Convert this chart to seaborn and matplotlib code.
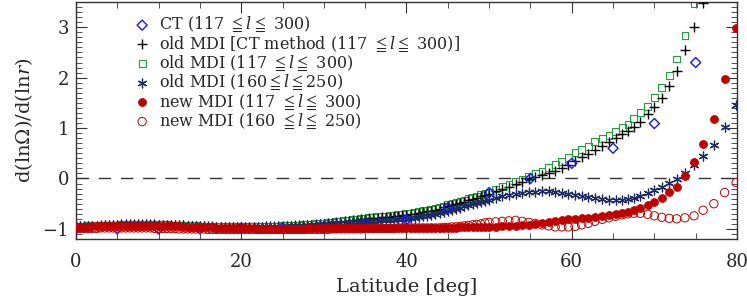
import matplotlib
matplotlib.use("Agg")
import matplotlib.pyplot as plt
import seaborn as sns
from matplotlib.ticker import MultipleLocator

sns.set_theme(style="ticks")
plt.rcParams["font.family"] = ["DejaVu Serif", "DejaVu Sans"]
plt.rcParams["mathtext.fontset"] = "dejavuserif"

# latitude grid of the inversions (deg)
LAT = [
    0.0, 0.5, 1.0, 1.5, 2.0, 2.5, 3.0, 3.5, 4.0, 4.5,
    5.0, 5.5, 6.0, 6.5, 7.0, 7.5, 8.0, 8.5, 9.0, 9.5,
    10.0, 10.5, 11.0, 11.5, 12.0, 12.5, 13.0, 13.5, 14.0, 14.5,
    15.0, 15.5, 16.0, 16.5, 17.0, 17.5, 18.0, 18.5, 19.0, 19.5,
    20.0, 20.5, 21.0, 21.5, 22.0, 22.5, 23.0, 23.5, 24.0, 24.5,
    25.0, 25.5, 26.0, 26.5, 27.0, 27.5, 28.0, 28.5, 29.0, 29.5,
    30.0, 30.5, 31.0, 31.5, 32.0, 32.5, 33.0, 33.5, 34.0, 34.5,
    35.0, 35.5, 36.0, 36.5, 37.0, 37.5, 38.0, 38.5, 39.0, 39.5,
    40.0, 40.5, 41.0, 41.5, 42.0, 42.5, 43.0, 43.5, 44.0, 44.5,
    45.0, 45.5, 46.0, 46.5, 47.0, 47.5, 48.0, 48.5, 49.0, 49.5,
    50.0, 50.8, 51.6, 52.4, 53.2, 54.0, 54.8, 55.6, 56.4, 57.2,
    58.0, 58.8, 59.6, 60.4, 61.2, 62.0, 62.8, 63.7, 64.5, 65.3,
    66.1, 66.8, 67.5, 68.3, 69.2, 70.0, 70.9, 71.8, 72.7, 73.7,
    74.8, 75.9, 77.2, 78.5, 79.9,
]

# old MDI, 117 <= l <= 300
OLD_MDI_117_300 = [
    -0.95, -0.95, -0.95, -0.94, -0.94, -0.94, -0.94, -0.93, -0.93, -0.93,
    -0.93, -0.92, -0.92, -0.92, -0.92, -0.92, -0.92, -0.92, -0.92, -0.92,
    -0.92, -0.92, -0.92, -0.93, -0.93, -0.93, -0.93, -0.94, -0.94, -0.94,
    -0.95, -0.95, -0.95, -0.95, -0.96, -0.96, -0.96, -0.96, -0.96, -0.96,
    -0.96, -0.96, -0.96, -0.96, -0.96, -0.96, -0.95, -0.95, -0.95, -0.95,
    -0.94, -0.94, -0.94, -0.93, -0.93, -0.92, -0.92, -0.91, -0.90, -0.89,
    -0.89, -0.88, -0.87, -0.86, -0.85, -0.84, -0.83, -0.82, -0.81, -0.80,
    -0.79, -0.78, -0.77, -0.76, -0.76, -0.75, -0.74, -0.73, -0.72, -0.71,
    -0.70, -0.69, -0.67, -0.66, -0.64, -0.63, -0.61, -0.59, -0.57, -0.55,
    -0.52, -0.50, -0.47, -0.45, -0.43, -0.40, -0.38, -0.35, -0.32, -0.30,
    -0.27, -0.21, -0.16, -0.11, -0.06, -0.01, 0.04, 0.10, 0.15, 0.21,
    0.27, 0.34, 0.41, 0.51, 0.58, 0.64, 0.74, 0.79, 0.85, 0.93,
    1.01, 1.07, 1.19, 1.31, 1.43, 1.61, 1.81, 2.05, 2.37, 2.83,
    3.46, 4.30, 5.50, 7.00, 9.00,
]

# old MDI, CT method (117 <= l <= 300)
OLD_MDI_CT = [
    -0.95, -0.95, -0.95, -0.94, -0.94, -0.94, -0.94, -0.93, -0.93, -0.93,
    -0.93, -0.92, -0.92, -0.92, -0.92, -0.92, -0.92, -0.92, -0.92, -0.92,
    -0.92, -0.92, -0.92, -0.93, -0.93, -0.93, -0.93, -0.94, -0.94, -0.94,
    -0.95, -0.95, -0.95, -0.95, -0.96, -0.96, -0.96, -0.96, -0.96, -0.96,
    -0.96, -0.96, -0.96, -0.96, -0.96, -0.96, -0.95, -0.95, -0.95, -0.95,
    -0.94, -0.94, -0.94, -0.93, -0.93, -0.93, -0.92, -0.92, -0.91, -0.90,
    -0.90, -0.89, -0.88, -0.87, -0.86, -0.85, -0.84, -0.83, -0.82, -0.81,
    -0.80, -0.79, -0.79, -0.78, -0.77, -0.77, -0.76, -0.75, -0.74, -0.73,
    -0.72, -0.71, -0.70, -0.68, -0.67, -0.65, -0.64, -0.62, -0.60, -0.57,
    -0.55, -0.53, -0.50, -0.48, -0.46, -0.43, -0.41, -0.38, -0.35, -0.33,
    -0.30, -0.25, -0.21, -0.16, -0.11, -0.06, -0.02, 0.02, 0.06, 0.10,
    0.15, 0.20, 0.26, 0.34, 0.42, 0.49, 0.56, 0.65, 0.73, 0.80,
    0.88, 0.94, 1.03, 1.13, 1.27, 1.41, 1.60, 1.84, 2.14, 2.55,
    3.00, 3.48, 4.20, 5.20, 6.50,
]

# old MDI, 160 <= l <= 250
OLD_MDI_160_250 = [
    -0.95, -0.95, -0.95, -0.94, -0.94, -0.94, -0.93, -0.93, -0.92, -0.92,
    -0.92, -0.91, -0.91, -0.91, -0.91, -0.91, -0.91, -0.91, -0.91, -0.91,
    -0.92, -0.92, -0.92, -0.93, -0.93, -0.93, -0.93, -0.94, -0.94, -0.94,
    -0.95, -0.95, -0.96, -0.96, -0.96, -0.96, -0.97, -0.97, -0.97, -0.97,
    -0.97, -0.97, -0.97, -0.97, -0.97, -0.97, -0.97, -0.97, -0.96, -0.96,
    -0.96, -0.95, -0.95, -0.95, -0.94, -0.94, -0.93, -0.92, -0.92, -0.91,
    -0.90, -0.90, -0.89, -0.89, -0.88, -0.88, -0.87, -0.87, -0.86, -0.86,
    -0.85, -0.85, -0.84, -0.84, -0.83, -0.83, -0.82, -0.82, -0.81, -0.81,
    -0.80, -0.79, -0.78, -0.77, -0.75, -0.74, -0.72, -0.71, -0.68, -0.66,
    -0.64, -0.62, -0.60, -0.58, -0.55, -0.53, -0.51, -0.49, -0.46, -0.44,
    -0.42, -0.38, -0.35, -0.33, -0.30, -0.28, -0.27, -0.26, -0.25, -0.25,
    -0.27, -0.29, -0.31, -0.33, -0.35, -0.37, -0.39, -0.40, -0.42, -0.42,
    -0.42, -0.40, -0.38, -0.34, -0.29, -0.23, -0.16, -0.09, -0.01, 0.11,
    0.26, 0.44, 0.66, 1.02, 1.45,
]

# new MDI, 117 <= l <= 300
NEW_MDI_117_300 = [
    -0.96, -0.96, -0.96, -0.96, -0.95, -0.95, -0.95, -0.95, -0.95, -0.94,
    -0.94, -0.94, -0.94, -0.94, -0.94, -0.94, -0.94, -0.94, -0.94, -0.94,
    -0.94, -0.94, -0.95, -0.95, -0.95, -0.95, -0.96, -0.96, -0.96, -0.96,
    -0.97, -0.97, -0.97, -0.97, -0.98, -0.98, -0.98, -0.98, -0.99, -0.99,
    -0.99, -0.99, -0.99, -0.99, -1.00, -1.00, -1.00, -1.00, -1.00, -1.00,
    -1.00, -1.00, -1.00, -1.00, -1.00, -1.00, -0.99, -0.99, -0.99, -0.99,
    -0.99, -0.99, -0.99, -0.98, -0.98, -0.98, -0.98, -0.98, -0.98, -0.98,
    -0.98, -0.98, -0.98, -0.98, -0.98, -0.98, -0.98, -0.98, -0.98, -0.98,
    -0.98, -0.98, -0.98, -0.98, -0.98, -0.98, -0.98, -0.98, -0.98, -0.98,
    -0.98, -0.98, -0.98, -0.97, -0.97, -0.97, -0.97, -0.96, -0.96, -0.96,
    -0.96, -0.96, -0.95, -0.95, -0.94, -0.93, -0.92, -0.91, -0.89, -0.87,
    -0.85, -0.83, -0.81, -0.80, -0.79, -0.78, -0.76, -0.75, -0.73, -0.71,
    -0.69, -0.67, -0.63, -0.58, -0.52, -0.47, -0.38, -0.27, -0.16, 0.05,
    0.32, 0.68, 1.17, 1.97, 2.98,
]

# new MDI, 160 <= l <= 250
NEW_MDI_160_250 = [
    -0.99, -0.99, -0.99, -0.99, -0.99, -0.99, -0.98, -0.98, -0.98, -0.98,
    -0.98, -0.98, -0.98, -0.98, -0.98, -0.98, -0.98, -0.98, -0.98, -0.99,
    -0.99, -0.99, -0.99, -0.99, -0.99, -1.00, -1.00, -1.00, -1.00, -1.00,
    -1.00, -1.00, -1.01, -1.01, -1.01, -1.01, -1.01, -1.01, -1.01, -1.01,
    -1.01, -1.01, -1.01, -1.01, -1.01, -1.01, -1.01, -1.01, -1.01, -1.01,
    -1.01, -1.01, -1.01, -1.01, -1.01, -1.01, -1.01, -1.01, -1.01, -1.01,
    -1.01, -1.01, -1.00, -1.00, -1.00, -1.00, -1.00, -1.00, -1.00, -1.00,
    -0.99, -0.99, -0.99, -0.99, -0.99, -0.99, -0.99, -0.99, -0.98, -0.98,
    -0.98, -0.98, -0.98, -0.98, -0.98, -0.98, -0.98, -0.98, -0.98, -0.97,
    -0.97, -0.96, -0.96, -0.95, -0.94, -0.93, -0.92, -0.91, -0.90, -0.88,
    -0.87, -0.86, -0.85, -0.84, -0.83, -0.85, -0.87, -0.89, -0.92, -0.94,
    -0.96, -0.96, -0.96, -0.95, -0.92, -0.89, -0.85, -0.81, -0.78, -0.75,
    -0.72, -0.70, -0.69, -0.69, -0.71, -0.74, -0.77, -0.79, -0.80, -0.78,
    -0.74, -0.63, -0.50, -0.28, -0.08,
]

# CT result, every 5 deg
CT_LAT = [0, 5, 10, 15, 20, 25, 30, 35, 40, 45, 50, 55, 60, 65, 70, 75]
CT_VAL = [-1.00, -1.00, -1.00, -1.00, -0.98, -0.98, -0.98, -0.92,
          -0.82, -0.58, -0.28, 0.00, 0.30, 0.60, 1.09, 2.30]

LABELS = [
    r"CT (117 $\leqq l\leqq$ 300)",
    r"old MDI [CT method (117 $\leqq l\leqq$ 300)]",
    r"old MDI (117 $\leqq l\leqq$ 300)",
    r"old MDI (160$\leqq l\leqq$250)",
    r"new MDI (117 $\leqq l\leqq$ 300)",
    r"new MDI (160 $\leqq l\leqq$ 250)",
]

BLUE = "#1414ff"
GREEN = "#22a03c"
NAVY = "#1c2a66"
RED = "#c00000"

fig = plt.figure(figsize=(7.47, 2.99), dpi=100)
ax = fig.add_axes([0.1017, 0.2007, 0.8849, 0.7926])

ax.axhline(0, color="#333333", lw=1.0, dashes=(9, 7), zorder=1)

sns.scatterplot(x=LAT, y=OLD_MDI_117_300, marker="s", s=24, facecolors="none",
                edgecolor=GREEN, linewidth=0.8, label=LABELS[2], ax=ax, zorder=2)
sns.scatterplot(x=LAT, y=OLD_MDI_CT, marker="+", s=45, color="black",
                linewidth=1.0, label=LABELS[1], ax=ax, zorder=3)
sns.scatterplot(x=LAT, y=OLD_MDI_160_250, marker=(6, 2, 0), s=40, color=NAVY,
                linewidth=0.9, label=LABELS[3], ax=ax, zorder=4)
sns.scatterplot(x=CT_LAT, y=CT_VAL, marker="D", s=26, facecolors="none",
                edgecolor=BLUE, linewidth=1.0, label=LABELS[0], ax=ax, zorder=5)
sns.scatterplot(x=LAT, y=NEW_MDI_117_300, marker="o", s=33, color=RED,
                edgecolor=RED, linewidth=0.5, label=LABELS[4], ax=ax, zorder=6)
sns.scatterplot(x=LAT, y=NEW_MDI_160_250, marker="o", s=36, facecolors="none",
                edgecolor=RED, linewidth=0.7, label=LABELS[5], ax=ax, zorder=7)

handles, labels = ax.get_legend_handles_labels()
order = [labels.index(l) for l in LABELS]
ax.legend([handles[i] for i in order], [labels[i] for i in order],
          loc="upper left", bbox_to_anchor=(0.088, 0.944), frameon=False,
          fontsize=11.5, handlelength=1.0, handletextpad=0.55,
          labelspacing=0.01, borderaxespad=0, borderpad=0, scatterpoints=1)

ax.set_xlim(0, 80)
ax.set_ylim(-1.2, 3.5)
ax.xaxis.set_major_locator(MultipleLocator(20))
ax.xaxis.set_minor_locator(MultipleLocator(5))
ax.yaxis.set_major_locator(MultipleLocator(1))
ax.yaxis.set_minor_locator(MultipleLocator(0.1))
ax.tick_params(which="both", direction="in", top=True, right=True, color="#333333")
ax.tick_params(which="major", length=8, width=0.8, labelsize=13)
ax.tick_params(axis="x", which="major", pad=10)
ax.tick_params(axis="y", which="major", pad=5)
ax.tick_params(which="minor", length=4, width=0.6)
for sp in ax.spines.values():
    sp.set_color("#333333")
    sp.set_linewidth(1.0)

ax.set_xlabel("Latitude [deg]", fontsize=14, labelpad=5)
ax.set_ylabel("d(lnΩ)/d(ln$r$)", fontsize=14)
ax.yaxis.set_label_coords(-0.062, 0.5)

fig.savefig("out.png", dpi=100)
